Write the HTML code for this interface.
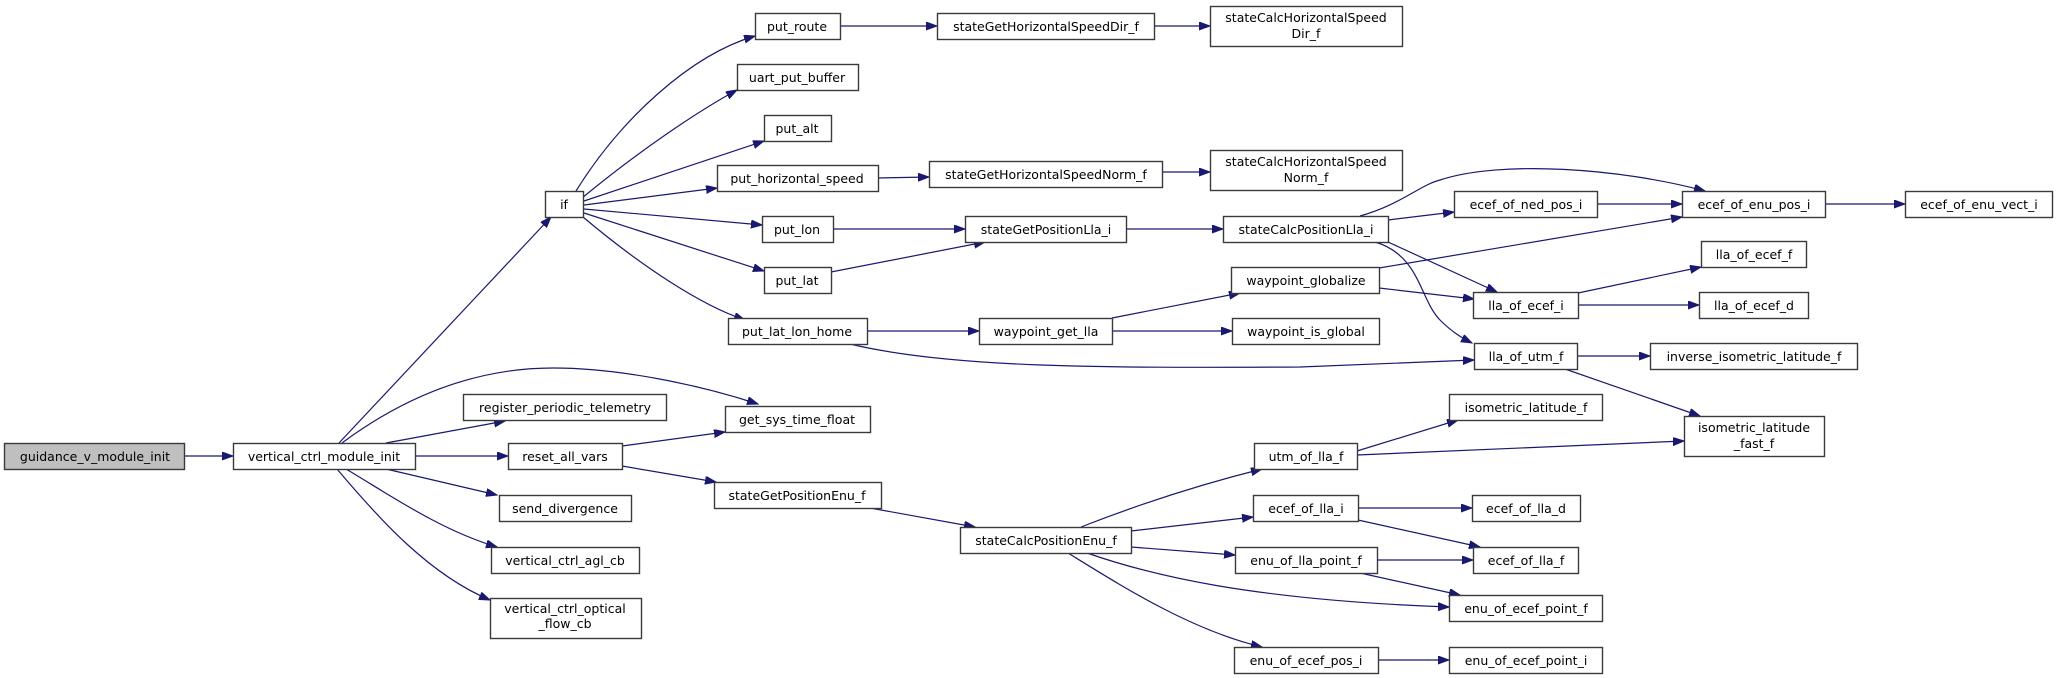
<!DOCTYPE html>
<html><head><meta charset="utf-8"><style>
html,body{margin:0;padding:0;background:#fff;}
svg{display:block;}
text{font-family:"DejaVu Sans","Liberation Sans",sans-serif;font-size:12.5px;fill:#000;}
rect{fill:#fff;stroke:#3a3a3a;stroke-width:1.4;}
path.e{fill:none;stroke:#191970;stroke-width:1.2;}
</style></head><body>
<svg width="2057" height="678" viewBox="0 0 2057 678" xmlns="http://www.w3.org/2000/svg">
<defs>
<marker id="a" markerUnits="userSpaceOnUse" markerWidth="12" markerHeight="10" refX="11" refY="4" orient="auto">
<path d="M0,0 L11,4 L0,8 Z" fill="#191970" stroke="#191970"/>
</marker>
</defs>
<g marker-end="url(#a)">
<path class="e" d="M185,456 L233,456"/>
<path class="e" d="M339,443 L551,217"/>
<path class="e" d="M342,443 C400,400 470,368 553,368 C620,368 700,385 758,404"/>
<path class="e" d="M386,443 L505,421"/>
<path class="e" d="M416,456 L508,456"/>
<path class="e" d="M386,469 L497,495"/>
<path class="e" d="M346,469 C390,495 440,530 497,547"/>
<path class="e" d="M337,469 C380,520 430,575 490,600"/>
<path class="e" d="M622,446 L725,432"/>
<path class="e" d="M622,466 L716,482"/>
<path class="e" d="M576,191 C620,120 690,55 755,36"/>
<path class="e" d="M582,198 C640,150 700,110 737,90"/>
<path class="e" d="M584,201 L764,141"/>
<path class="e" d="M584,205 L717,188"/>
<path class="e" d="M584,209 L762,225"/>
<path class="e" d="M584,213 L764,271"/>
<path class="e" d="M583,217 C640,265 700,305 745,320"/>
<path class="e" d="M840,26 L937,26"/>
<path class="e" d="M1154,26 L1210,26"/>
<path class="e" d="M878,178 L929,177"/>
<path class="e" d="M1162,172 L1210,172"/>
<path class="e" d="M833,229 L965,229"/>
<path class="e" d="M1126,229 L1223,229"/>
<path class="e" d="M831,272 L985,242"/>
<path class="e" d="M867,331 L979,331"/>
<path class="e" d="M1112,331 L1232,331"/>
<path class="e" d="M1112,318 L1240,293"/>
<path class="e" d="M850,344 C950,368 1100,368 1300,367 L1474,360"/>
<path class="e" d="M1360,216 C1400,205 1420,185 1440,180 C1500,160 1620,168 1705,191"/>
<path class="e" d="M1388,220 L1454,212"/>
<path class="e" d="M1388,242 L1497,292"/>
<path class="e" d="M1375,242 C1420,255 1420,300 1440,320 C1452,332 1462,338 1472,343"/>
<path class="e" d="M1597,204 L1682,204"/>
<path class="e" d="M1825,204 L1905,204"/>
<path class="e" d="M1379,268 L1682,217"/>
<path class="e" d="M1379,288 L1474,299"/>
<path class="e" d="M1578,293 L1701,267"/>
<path class="e" d="M1578,305 L1699,305"/>
<path class="e" d="M1577,356 L1650,356"/>
<path class="e" d="M1565,369 L1700,416"/>
<path class="e" d="M1357,451 L1458,420"/>
<path class="e" d="M1357,455 L1684,441"/>
<path class="e" d="M870,508 L975,527"/>
<path class="e" d="M1081,527 C1150,500 1210,482 1262,469"/>
<path class="e" d="M1131,531 L1253,517"/>
<path class="e" d="M1131,547 L1235,555"/>
<path class="e" d="M1087,553 C1150,575 1250,600 1449,607"/>
<path class="e" d="M1068,553 C1120,585 1190,630 1262,647"/>
<path class="e" d="M1358,508 L1472,508"/>
<path class="e" d="M1358,520 L1480,547"/>
<path class="e" d="M1377,560 L1473,560"/>
<path class="e" d="M1360,573 L1460,595"/>
<path class="e" d="M1377,660 L1449,660"/>
</g>

<g text-anchor="middle">
<rect x="4.5" y="443.5" width="180" height="26" style="fill:#bfbfbf"/><text x="95" y="461">guidance_v_module_init</text>
<rect x="233.5" y="443.5" width="182" height="26"/><text x="324" y="461">vertical_ctrl_module_init</text>
<rect x="545.5" y="191.5" width="38" height="26"/><text x="564" y="209">if</text>
<rect x="463.5" y="394.5" width="203" height="26"/><text x="565" y="412">register_periodic_telemetry</text>
<rect x="508.5" y="443.5" width="114" height="26"/><text x="565" y="461">reset_all_vars</text>
<rect x="499.5" y="495.5" width="132" height="26"/><text x="565" y="513">send_divergence</text>
<rect x="491.5" y="547.5" width="148" height="26"/><text x="565" y="565">vertical_ctrl_agl_cb</text>
<rect x="490.5" y="598.5" width="151" height="40"/><text x="565" y="613">vertical_ctrl_optical</text><text x="565" y="628">_flow_cb</text>

<rect x="755.5" y="13.5" width="85" height="26"/><text x="797" y="31">put_route</text>
<rect x="737.5" y="64.5" width="121" height="26"/><text x="797" y="82">uart_put_buffer</text>
<rect x="764.5" y="115.5" width="67" height="26"/><text x="797" y="133">put_alt</text>
<rect x="717.5" y="165.5" width="161" height="26"/><text x="797" y="183">put_horizontal_speed</text>
<rect x="762.5" y="216.5" width="71" height="26"/><text x="797" y="234">put_lon</text>
<rect x="764.5" y="267.5" width="67" height="26"/><text x="797" y="285">put_lat</text>
<rect x="728.5" y="318.5" width="139" height="26"/><text x="797" y="336">put_lat_lon_home</text>
<rect x="725.5" y="406.5" width="145" height="26"/><text x="797" y="424">get_sys_time_float</text>
<rect x="714.5" y="482.5" width="167" height="26"/><text x="797" y="500">stateGetPositionEnu_f</text>

<rect x="937.5" y="13.5" width="217" height="26"/><text x="1046" y="31">stateGetHorizontalSpeedDir_f</text>
<rect x="929.5" y="161.5" width="233" height="26"/><text x="1046" y="179">stateGetHorizontalSpeedNorm_f</text>
<rect x="965.5" y="216.5" width="161" height="26"/><text x="1046" y="234">stateGetPositionLla_i</text>
<rect x="979.5" y="318.5" width="133" height="26"/><text x="1046" y="336">waypoint_get_lla</text>
<rect x="960.5" y="527.5" width="171" height="26"/><text x="1046" y="545">stateCalcPositionEnu_f</text>

<rect x="1210.5" y="6.5" width="192" height="40"/><text x="1306" y="22">stateCalcHorizontalSpeed</text><text x="1306" y="38">Dir_f</text>
<rect x="1210.5" y="150.5" width="192" height="40"/><text x="1306" y="166">stateCalcHorizontalSpeed</text><text x="1306" y="182">Norm_f</text>
<rect x="1223.5" y="216.5" width="165" height="26"/><text x="1306" y="234">stateCalcPositionLla_i</text>
<rect x="1231.5" y="267.5" width="148" height="26"/><text x="1306" y="285">waypoint_globalize</text>
<rect x="1232.5" y="318.5" width="147" height="26"/><text x="1306" y="336">waypoint_is_global</text>
<rect x="1254.5" y="443.5" width="103" height="26"/><text x="1306" y="461">utm_of_lla_f</text>
<rect x="1253.5" y="495.5" width="105" height="26"/><text x="1306" y="513">ecef_of_lla_i</text>
<rect x="1235.5" y="547.5" width="142" height="26"/><text x="1306" y="565">enu_of_lla_point_f</text>
<rect x="1234.5" y="647.5" width="144" height="26"/><text x="1306" y="665">enu_of_ecef_pos_i</text>

<rect x="1454.5" y="191.5" width="143" height="26"/><text x="1526" y="209">ecef_of_ned_pos_i</text>
<rect x="1473.5" y="292.5" width="105" height="26"/><text x="1526" y="310">lla_of_ecef_i</text>
<rect x="1474.5" y="343.5" width="103" height="26"/><text x="1526" y="361">lla_of_utm_f</text>
<rect x="1449.5" y="394.5" width="153" height="26"/><text x="1526" y="412">isometric_latitude_f</text>
<rect x="1472.5" y="495.5" width="108" height="26"/><text x="1526" y="513">ecef_of_lla_d</text>
<rect x="1473.5" y="547.5" width="105" height="26"/><text x="1526" y="565">ecef_of_lla_f</text>
<rect x="1449.5" y="595.5" width="153" height="26"/><text x="1526" y="613">enu_of_ecef_point_f</text>
<rect x="1449.5" y="647.5" width="153" height="26"/><text x="1526" y="665">enu_of_ecef_point_i</text>

<rect x="1682.5" y="191.5" width="143" height="26"/><text x="1754" y="209">ecef_of_enu_pos_i</text>
<rect x="1701.5" y="241.5" width="105" height="26"/><text x="1754" y="259">lla_of_ecef_f</text>
<rect x="1699.5" y="292.5" width="109" height="26"/><text x="1754" y="310">lla_of_ecef_d</text>
<rect x="1650.5" y="343.5" width="207" height="26"/><text x="1754" y="361">inverse_isometric_latitude_f</text>
<rect x="1684.5" y="416.5" width="140" height="40"/><text x="1754" y="432">isometric_latitude</text><text x="1754" y="448">_fast_f</text>

<rect x="1905.5" y="191.5" width="147" height="26"/><text x="1979" y="209">ecef_of_enu_vect_i</text>
</g>
</svg>
</body></html>
